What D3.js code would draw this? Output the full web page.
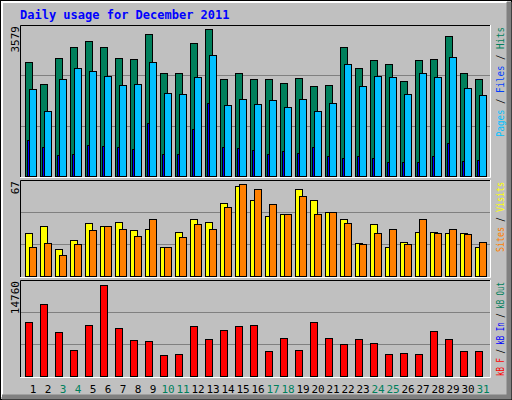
<!DOCTYPE html>
<html><head><meta charset="utf-8">
<script src="https://cdn.jsdelivr.net/npm/d3@7"></script>
<style>body{margin:0;background:#fff}text{font-family:"DejaVu Sans Mono",monospace}</style>
</head><body>
<svg id="chart" width="512" height="400"></svg>
<script>
var days = d3.range(1, 32);
var weekend = [3, 4, 10, 11, 17, 18, 24, 25, 31];
var hits  = [2702,2181,2797,3057,3200,3057,2797,2773,3365,2441,2441,3152,3484,2299,2441,2299,2299,2204,2323,2133,2157,3057,2560,2749,2654,2252,2749,2773,3318,2441,2299];
var pages = [2062,1541,2299,2560,2489,2370,2157,2180,2702,1967,1943,2346,2868,1683,1825,1706,1801,1635,1825,1541,1730,2654,2133,2370,2346,1943,2441,2346,2820,2086,1920];
var files = [853,687,498,521,735,711,687,640,1256,521,521,1114,1730,687,664,616,521,592,545,687,474,427,474,427,332,332,332,474,782,356,379];
var visits = [30,35,19,25,37,35,38,32,33,20,31,40,38,51,63,53,42,43,61,53,45,40,23,36,20,24,31,31,30,30,20];
var sites  = [20,23,15,22,32,35,33,28,40,20,27,36,33,48,64,61,50,43,56,43,45,37,22,30,33,22,40,30,33,29,24];
var kbytes = [8354,11121,6816,4049,7893,14043,7431,5586,5433,3280,3434,7739,5740,7124,7739,7893,3895,5894,4049,8354,5894,4971,5740,5125,3434,3588,3434,6970,5740,3895,3895];
var maxHits = 3579, maxVisits = 67, maxKB = 14760;

var svg = d3.select("#chart");
// frame
svg.append("rect").attr("x",0.5).attr("y",0.5).attr("width",511).attr("height",399).attr("fill","#c0c0c0").attr("stroke","#000");
svg.append("path").attr("d","M2,397V2H507").attr("fill","none").attr("stroke","#fff").attr("stroke-width",2);
svg.append("path").attr("d","M509,2V397H2").attr("fill","none").attr("stroke","#808080").attr("stroke-width",5);

svg.append("text").attr("x",20).attr("y",19).attr("fill","#0000ff").attr("font-size",12).attr("font-weight","bold")
  .text("Daily usage for December 2011");

var x = d3.scaleLinear().domain([1, 32]).range([25, 490]);

function panel(top, bottom, max, label, legend, len) {
  var y = d3.scaleLinear().domain([0, max]).range([bottom, top]);
  var g = svg.append("g");
  g.append("rect").attr("x",20).attr("y",top).attr("width",471).attr("height",bottom-top+2).attr("fill","#c0c0c0");
  g.append("path").attr("d","M20.5,"+(bottom+2)+"V"+(top+0.5)+"H491").attr("fill","none").attr("stroke","#000");
  g.append("path").attr("d","M20,"+(bottom+1.5)+"H490.5V"+top).attr("fill","none").attr("stroke","#fff");
  g.selectAll("line.grid").data([max/3, max*2/3]).enter().append("line")
    .attr("x1",21).attr("x2",490).attr("y1",function(d){return Math.round(y(d))+0.5;}).attr("y2",function(d){return Math.round(y(d))+0.5;})
    .attr("stroke","#808080");
  g.append("text").attr("transform","translate(19,"+(top+1)+") rotate(-90)").attr("text-anchor","end")
    .attr("font-size",11).attr("fill","#000").text(label);
  var t = g.append("text").attr("transform","translate(504,"+(top+2)+") rotate(-90)").attr("text-anchor","end")
    .attr("font-size",10).attr("textLength",len).attr("lengthAdjust","spacingAndGlyphs");
  legend.forEach(function(l){ t.append("tspan").attr("fill",l[1]).text(l[0]); });
  return {g: g, y: y, bottom: bottom};
}

function bars(p, data, dx, w, color) {
  p.g.selectAll(null).data(data).enter().append("rect")
    .attr("x", function(d, i){ return x(days[i]) + dx + 0.5; })
    .attr("y", function(d){ return Math.round(p.y(d)) + 0.5; })
    .attr("width", w)
    .attr("height", function(d){ return Math.max(0, p.bottom - Math.round(p.y(d))); })
    .attr("fill", color).attr("stroke", "#000");
}

var p1 = panel(25, 176, maxHits, "3579", [["Pages","#00c0ff"],[" / ","#000"],["Files","#0040ff"],[" / ","#000"],["Hits","#00805c"]], 110);
bars(p1, hits, 0, 7, "#00805c");
bars(p1, pages, 4, 7, "#00c0ff");
bars(p1, files, 2, 2, "#0000ff");

var p2 = panel(180, 276, maxVisits, "67", [["Sites","#ff8000"],[" / ","#000"],["Visits","#ffff00"]], 70);
bars(p2, visits, 0, 7, "#ffff00");
bars(p2, sites, 4, 7, "#ff8000");

var p3 = panel(280, 376, maxKB, "14760", [["kB F","#ff0000"],[" / ","#000"],["kB In","#0000ff"],[" / ","#000"],["kB Out","#00805c"]], 94);
bars(p3, kbytes, 0, 7, "#ff0000");

svg.selectAll("text.day").data(days).enter().append("text")
  .attr("x", function(d){ return x(d) + 8; }).attr("y", 393).attr("text-anchor","middle")
  .attr("font-size",11).attr("font-family","DejaVu Sans")
  .attr("fill", function(d){ return weekend.indexOf(d) >= 0 ? "#00805c" : "#000"; })
  .text(function(d){ return d; });
</script>
</body></html>
